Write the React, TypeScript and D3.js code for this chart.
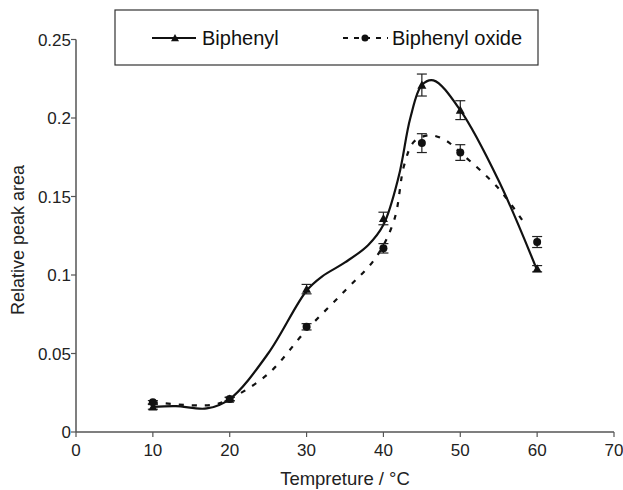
import React from "react";
import * as d3 from "d3";

const temps = [10, 20, 30, 40, 45, 50, 60];
const biphenyl = [0.016, 0.021, 0.091, 0.136, 0.221, 0.205, 0.104];
const biphenylErr = [0.0015, 0.0012, 0.003, 0.004, 0.007, 0.006, 0.002];
const oxide = [0.019, 0.021, 0.067, 0.117, 0.184, 0.178, 0.121];
const oxideErr = [0.001, 0.001, 0.002, 0.003, 0.006, 0.005, 0.0035];

// fitted curves
const fitBiphenylX = [10, 13, 17, 20, 25, 30, 32, 35, 38, 40, 42, 43.5, 45, 46.5, 50, 55, 60];
const fitBiphenylY = [0.016, 0.0165, 0.015, 0.021, 0.05, 0.09, 0.099, 0.108, 0.119, 0.132, 0.163, 0.2, 0.221, 0.224, 0.205, 0.16, 0.103];
const fitOxideX = [10, 15, 18, 20, 25, 30, 35, 39, 41.4, 42.7, 44, 46, 48, 50, 55, 58.6];
const fitOxideY = [0.019, 0.017, 0.0175, 0.021, 0.037, 0.065, 0.09, 0.111, 0.135, 0.17, 0.185, 0.189, 0.186, 0.178, 0.155, 0.131];

const xTicks = [0, 10, 20, 30, 40, 50, 60, 70];
const yTicks = [0, 0.05, 0.1, 0.15, 0.2, 0.25];
const seriesNames = ["Biphenyl", "Biphenyl oxide"];

const W = 623, H = 490;
const x = d3.scaleLinear().domain([0, 70]).range([76, 614]);
const y = d3.scaleLinear().domain([0, 0.25]).range([432, 39.5]);
const font = "'Liberation Sans', Arial, sans-serif";

function tri(cx: number, cy: number, s = 5) {
  return `M${cx},${cy - s} L${cx + s},${cy + s * 0.8} L${cx - s},${cy + s * 0.8} Z`;
}

export default function App() {
  const line = d3.line<[number, number]>().x(d => x(d[0])).y(d => y(d[1])).curve(d3.curveCatmullRom.alpha(0.5));
  const bFit = line(fitBiphenylX.map((v, i) => [v, fitBiphenylY[i]] as [number, number])) || "";
  const oFit = line(fitOxideX.map((v, i) => [v, fitOxideY[i]] as [number, number])) || "";
  const axisColor = "#555";
  const err = (vals: number[], errs: number[], key: string) =>
    temps.map((t, i) => {
      const cx = x(t), y1 = y(vals[i] + errs[i]), y2 = y(vals[i] - errs[i]);
      return (
        <g key={key + i} stroke="#222" strokeWidth={1.2}>
          <line x1={cx} x2={cx} y1={y1} y2={y2} />
          <line x1={cx - 5} x2={cx + 5} y1={y1} y2={y1} />
          <line x1={cx - 5} x2={cx + 5} y1={y2} y2={y2} />
        </g>
      );
    });
  return (
    <svg width={W} height={H} style={{ position: "absolute", left: 0, top: 0, background: "#fff" }} fontFamily={font}>
      {/* legend */}
      <rect x={115} y={10} width={423} height={55} fill="#fff" stroke="#333" strokeWidth={1.2} />
      <line x1={152} x2={196} y1={38} y2={38} stroke="#111" strokeWidth={2.2} />
      <path d={tri(175, 38, 4)} fill="#111" />
      <text x={202} y={45} fontSize={20} fill="#111">{seriesNames[0]}</text>
      <line x1={343} x2={388} y1={38} y2={38} stroke="#111" strokeWidth={2.2} strokeDasharray="5,6" />
      <circle cx={365} cy={38} r={3.5} fill="#111" />
      <text x={392} y={45} fontSize={20} fill="#111">{seriesNames[1]}</text>

      {/* axes */}
      <line x1={x(0)} x2={x(70)} y1={y(0)} y2={y(0)} stroke={axisColor} strokeWidth={1.5} />
      <line x1={x(0)} x2={x(0)} y1={y(0)} y2={y(0.25)} stroke={axisColor} strokeWidth={1.5} />
      {xTicks.map(t => (
        <g key={"xt" + t}>
          <line x1={x(t)} x2={x(t)} y1={y(0)} y2={y(0) + 5} stroke={axisColor} strokeWidth={1.2} />
          <text x={x(t)} y={y(0) + 24} fontSize={17} textAnchor="middle" fill="#222">{t}</text>
        </g>
      ))}
      {yTicks.map(t => (
        <g key={"yt" + t}>
          <line x1={x(0) - 5} x2={x(0)} y1={y(t)} y2={y(t)} stroke={axisColor} strokeWidth={1.2} />
          <text x={x(0) - 5} y={y(t) + 6} fontSize={17} textAnchor="end" fill="#222">{String(t)}</text>
        </g>
      ))}
      <text x={345} y={485} fontSize={18.5} textAnchor="middle" fill="#222">Tempreture / °C</text>
      <text transform={`translate(24,240) rotate(-90)`} fontSize={18} textAnchor="middle" fill="#222">Relative peak area</text>

      {/* fitted curves */}
      <path d={oFit} fill="none" stroke="#111" strokeWidth={2.2} strokeDasharray="5,8" />
      <path d={bFit} fill="none" stroke="#111" strokeWidth={2.2} />

      {/* error bars and markers */}
      {err(biphenyl, biphenylErr, "be")}
      {err(oxide, oxideErr, "oe")}
      {temps.map((t, i) => <path key={"bm" + i} d={tri(x(t), y(biphenyl[i]), 4.5)} fill="#111" />)}
      {temps.map((t, i) => <circle key={"om" + i} cx={x(t)} cy={y(oxide[i])} r={4} fill="#111" />)}
    </svg>
  );
}
